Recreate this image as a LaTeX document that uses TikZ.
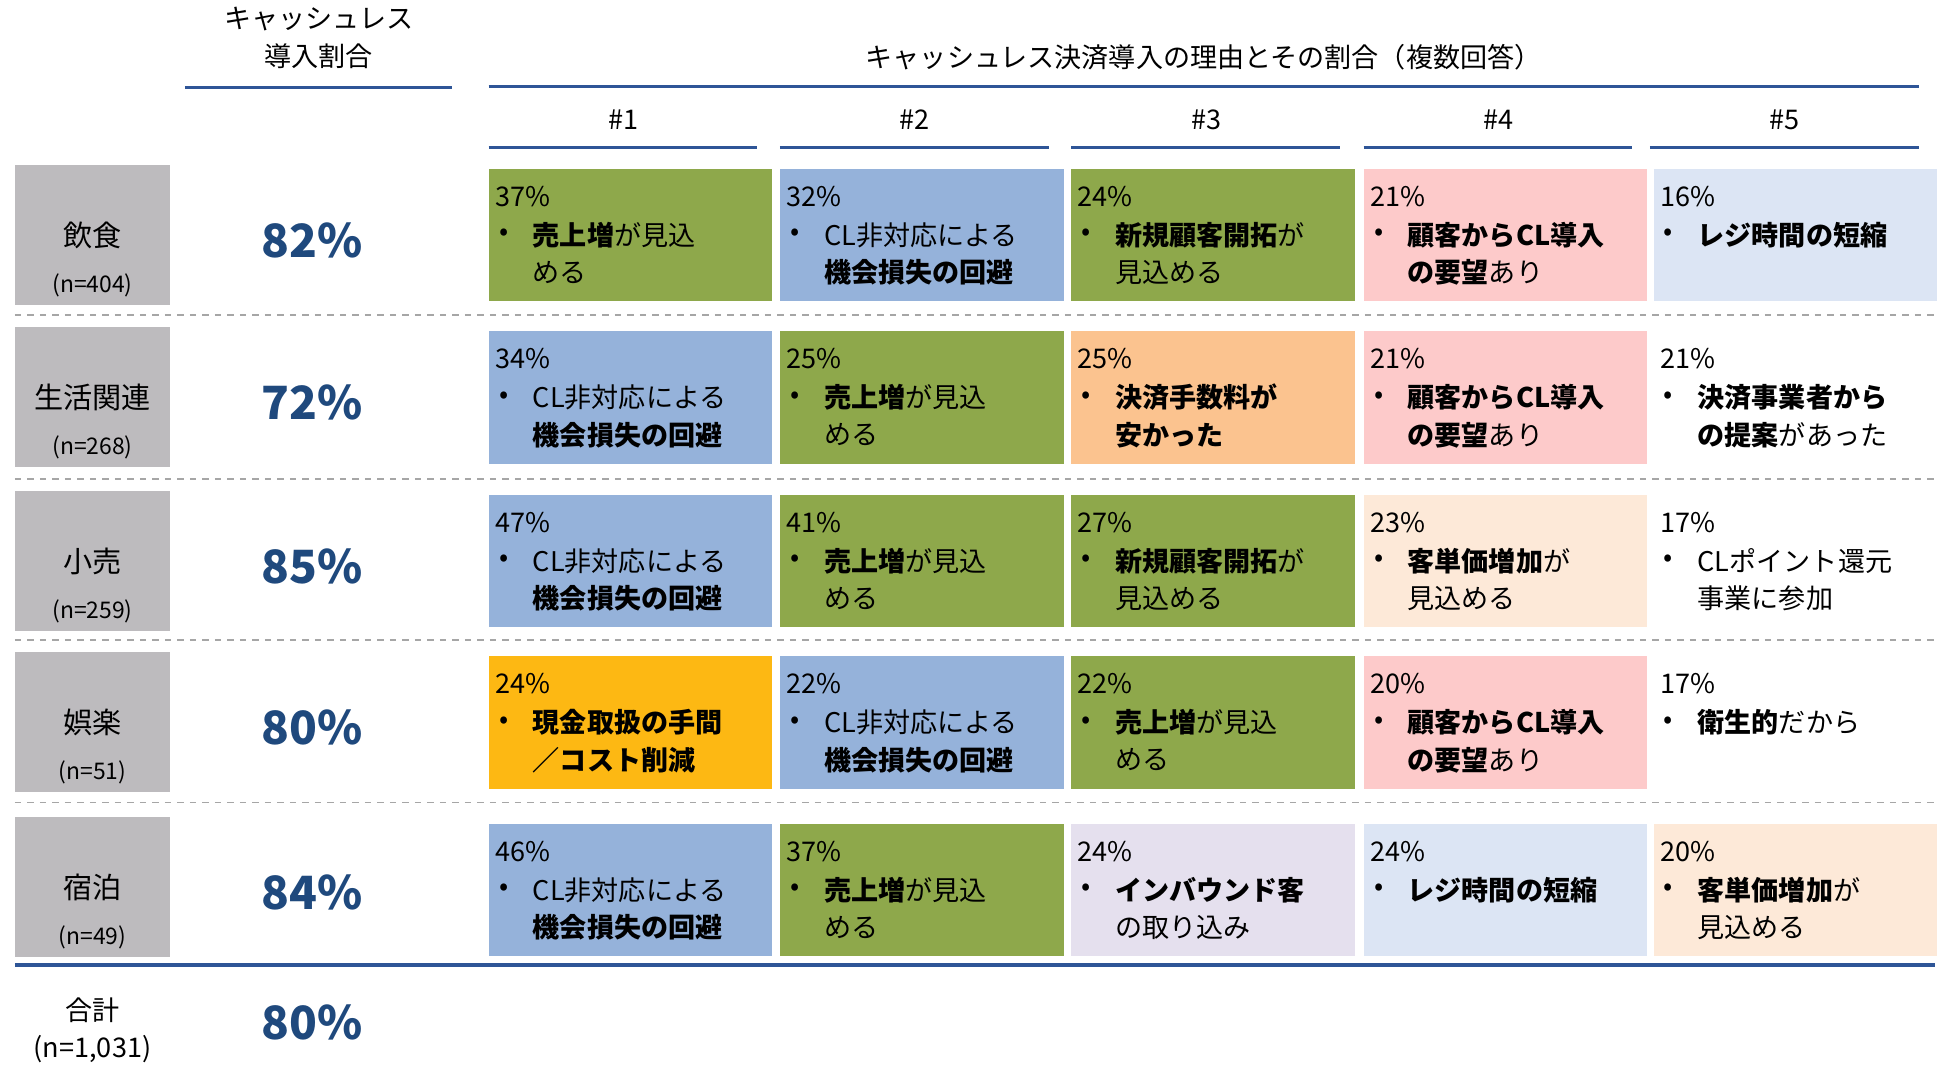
\documentclass[tikz,border=0pt]{standalone}
\usepackage{fontspec}
\setmainfont{Noto Sans CJK JP}
\definecolor{gr}{HTML}{8EA84B}
\definecolor{bl}{HTML}{95B2DA}
\definecolor{pe}{HTML}{FBC38F}
\definecolor{pk}{HTML}{FDCACA}
\definecolor{lb}{HTML}{DCE5F4}
\definecolor{lp}{HTML}{FDE9D8}
\definecolor{lv}{HTML}{E5E0EE}
\definecolor{og}{HTML}{FDB813}
\definecolor{gy}{HTML}{BDBBBE}
\definecolor{nv}{HTML}{1F497D}
\definecolor{ln}{HTML}{2E5597}
\newcommand{\cellbox}[6]{% x, y, color, pct, line1, line2
 \fill[#3] (#1,#2) rectangle ++(227,106);
 \node[txt] at (#1+5,#2+22) {#4};
 \node[txt] at (#1+8,#2+53) {•};
 \node[txt] at (#1+35,#2+53) {#5};
 \node[txt] at (#1+35,#2+83) {#6};
}
\newcommand{\rowlab}[4]{% y, name, n, pct
 \fill[gy] (12,#1) rectangle ++(124,112);
 \node[font=\fontsize{14}{14}\selectfont] at (74,#1+56) {#2};
 \node[font=\fontsize{11}{11}\selectfont] at (74,#1+96) {#3};
 \node[font=\fontsize{22}{22}\selectfont\bfseries,text=nv] at (250,#1+60) {#4};
}
\begin{document}
\begin{tikzpicture}[x=0.6pt,y=-0.6pt,
 txt/.style={anchor=west,inner sep=0,font=\fontsize{13}{13}\selectfont},
 dl/.style={gray!70,dashed,line width=0.8pt},
 hl/.style={ln,line width=1.6pt}]
\useasboundingbox (0,0) rectangle (1557,854);
\fill[white] (0,0) rectangle (1557,854);
\node[font=\fontsize{13}{13}\selectfont] (h1) at (255,15) {キャッシュレス};
\node[font=\fontsize{13}{13}\selectfont] (h2) at (255,45) {導入割合};
\node[font=\fontsize{13}{13}\selectfont] (h3) at (963,46) {キャッシュレス決済導入の理由とその割合（複数回答）};
\draw[hl] (148,70) -- (362,70);
\draw[hl] (391,69) -- (1535,69);
\foreach \x/\t in {391/1,624/2,857/3,1091/4,1320/5}{
 \node[font=\fontsize{13}{13}\selectfont] at (\x+108,96) {\#\t};
 \draw[hl] (\x,118) -- (\x+215,118);
}
\rowlab{132}{飲食}{(n=404)}{82\%}
\rowlab{262}{生活関連}{(n=268)}{72\%}
\rowlab{393}{小売}{(n=259)}{85\%}
\rowlab{522}{娯楽}{(n=51)}{80\%}
\rowlab{654}{宿泊}{(n=49)}{84\%}
\foreach \y in {252,383,512,642}{\draw[dl] (12,\y) -- (1548,\y);}
\draw[hl] (12,772) -- (1548,772);
\node[font=\fontsize{13}{13}\selectfont] at (74,808) {合計};
\node[font=\fontsize{13}{13}\selectfont] at (74,839) {(n=1,031)};
\node[font=\fontsize{22}{22}\selectfont\bfseries,text=nv] at (250,818) {80\%};
% row 1
\cellbox{391}{135}{gr}{37\%}{\textbf{売上増}が見込}{める}
\cellbox{624}{135}{bl}{32\%}{CL非対応による}{\textbf{機会損失の回避}}
\cellbox{857}{135}{gr}{24\%}{\textbf{新規顧客開拓}が}{見込める}
\cellbox{1091}{135}{pk}{21\%}{\textbf{顧客からCL導入}}{\textbf{の要望}あり}
\cellbox{1323}{135}{lb}{16\%}{\textbf{レジ時間の短縮}}{}
% row 2
\cellbox{391}{265}{bl}{34\%}{CL非対応による}{\textbf{機会損失の回避}}
\cellbox{624}{265}{gr}{25\%}{\textbf{売上増}が見込}{める}
\cellbox{857}{265}{pe}{25\%}{\textbf{決済手数料が}}{\textbf{安かった}}
\cellbox{1091}{265}{pk}{21\%}{\textbf{顧客からCL導入}}{\textbf{の要望}あり}
\cellbox{1323}{265}{white}{21\%}{\textbf{決済事業者から}}{\textbf{の提案}があった}
% row 3
\cellbox{391}{396}{bl}{47\%}{CL非対応による}{\textbf{機会損失の回避}}
\cellbox{624}{396}{gr}{41\%}{\textbf{売上増}が見込}{める}
\cellbox{857}{396}{gr}{27\%}{\textbf{新規顧客開拓}が}{見込める}
\cellbox{1091}{396}{lp}{23\%}{\textbf{客単価増加}が}{見込める}
\cellbox{1323}{396}{white}{17\%}{CLポイント還元}{事業に参加}
% row 4
\cellbox{391}{525}{og}{24\%}{\textbf{現金取扱の手間}}{\textbf{／コスト削減}}
\cellbox{624}{525}{bl}{22\%}{CL非対応による}{\textbf{機会損失の回避}}
\cellbox{857}{525}{gr}{22\%}{\textbf{売上増}が見込}{める}
\cellbox{1091}{525}{pk}{20\%}{\textbf{顧客からCL導入}}{\textbf{の要望}あり}
\cellbox{1323}{525}{white}{17\%}{\textbf{衛生的}だから}{}
% row 5
\cellbox{391}{659}{bl}{46\%}{CL非対応による}{\textbf{機会損失の回避}}
\cellbox{624}{659}{gr}{37\%}{\textbf{売上増}が見込}{める}
\cellbox{857}{659}{lv}{24\%}{\textbf{インバウンド客}}{の取り込み}
\cellbox{1091}{659}{lb}{24\%}{\textbf{レジ時間の短縮}}{}
\cellbox{1323}{659}{lp}{20\%}{\textbf{客単価増加}が}{見込める}
\end{tikzpicture}
\end{document}
